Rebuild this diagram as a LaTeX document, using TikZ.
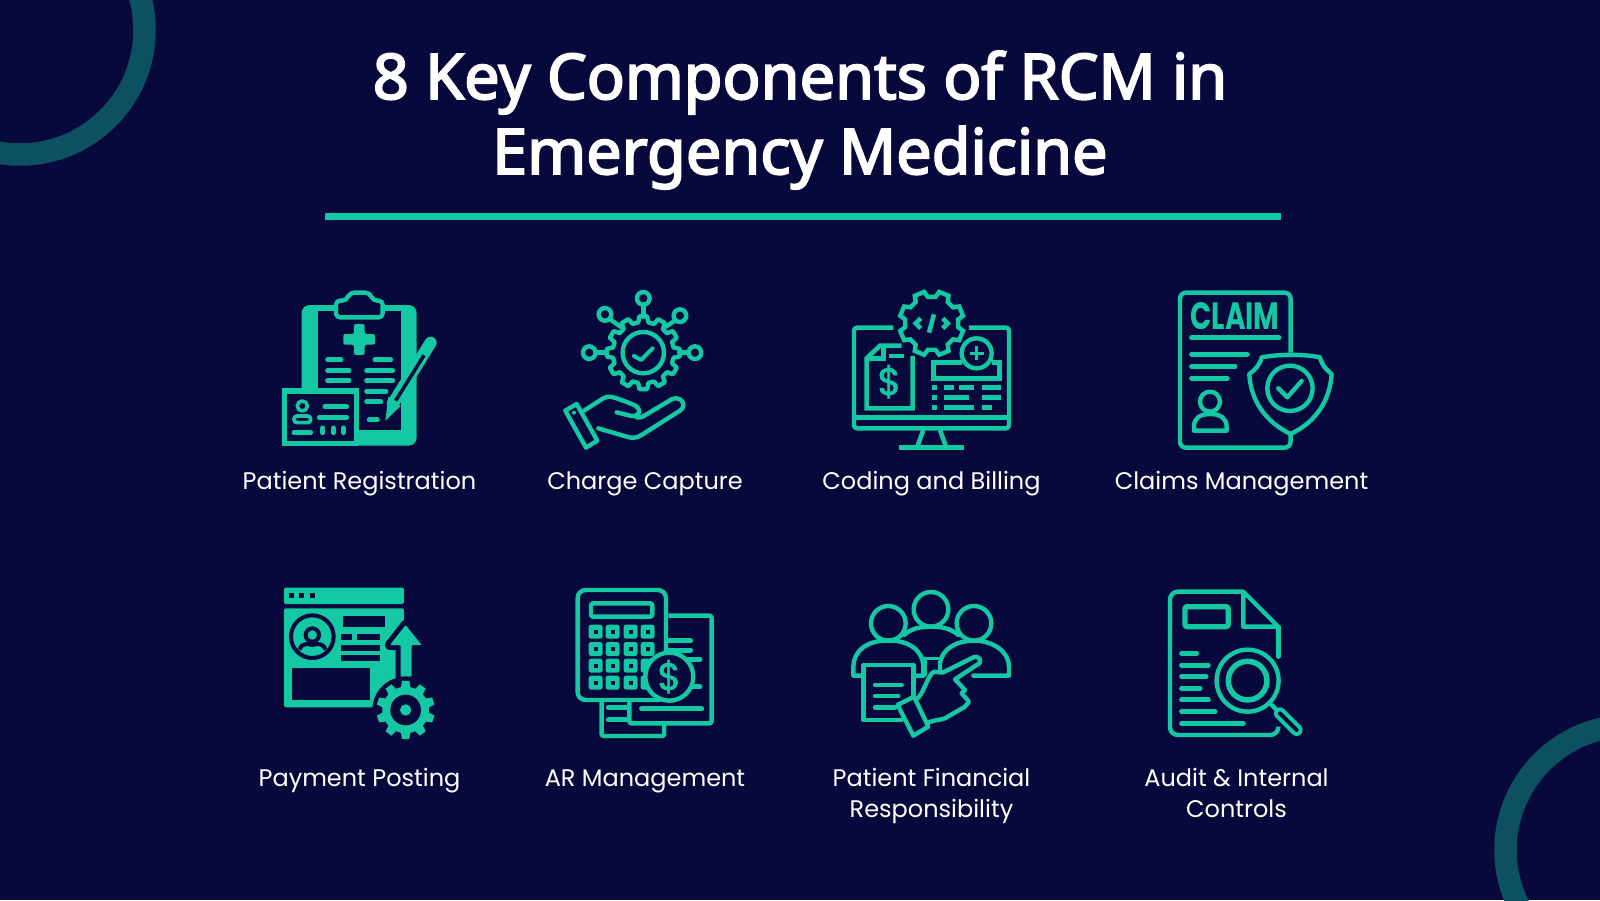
\documentclass[tikz,border=0pt]{standalone}
\usepackage{fontspec}
\usepackage{graphicx}
\newfontfamily\titlefont{Noto Sans}[FakeBold=3]
\newfontfamily\labelfont{Poppins}
\newfontfamily\iconfont{Poppins}[FakeBold=1.6]
\definecolor{navybg}{HTML}{07083C}
\definecolor{mint}{HTML}{14C8A3}
\definecolor{ringteal}{HTML}{0D5060}
\tikzset{
  titletext/.style={text=white, align=center, inner sep=0pt, font=\titlefont\fontsize{63}{75}\selectfont},
  labeltext/.style={text=white, align=center, inner sep=0pt, anchor=north, execute at begin node=\strut, font=\labelfont\fontsize{24}{31.5}\selectfont},
  iconunits/.style={x=.3333pt, y=-.3333pt},
  iconline/.style={draw=mint, line width=4.4pt, line join=round, line cap=round},
  thinbar/.style={draw=mint, line width=5pt, line cap=round},
  flatbar/.style={draw=mint, line width=4.6pt}
}
\newcommand{\gearpath}[4]{%
  ({#4-.2*360/#1}:#2) \foreach \a in {1,...,#1} {
    -- ({#4+(\a-1.2)*360/#1}:#2) -- ({#4+(\a-.8)*360/#1}:#2)
    -- ({#4+(\a-.68)*360/#1}:#3) -- ({#4+(\a-.32)*360/#1}:#3)
  } -- cycle}
\begin{document}
\begin{tikzpicture}[x=1pt,y=-1pt]
\useasboundingbox (0,0) rectangle (1600,900);
\clip (0,0) rectangle (1600,900);
\fill [navybg] (0,0) rectangle (1600,900);
\draw [ringteal, line width=22.5pt] (20,30) circle (124.5);
\draw [ringteal, line width=22.5pt] (1630,850) circle (124.5);
\node (title) [titletext] at (800,120) {8 Key Components of RCM in\\Emergency Medicine};
\fill [mint] (325,213) rectangle (1281,220);

\node (registration) [labeltext] at (359.5,467) {Patient Registration};
\node (charge) [labeltext] at (645,467) {Charge Capture};
\node (coding) [labeltext] at (931.5,467) {Coding and Billing};
\node (claims) [labeltext] at (1241.5,467) {Claims Management};
\node (posting) [labeltext] at (359.5,764) {Payment Posting};
\node (armanage) [labeltext] at (645,764) {AR Management};
\node (financial) [labeltext] at (931.5,768) {Patient Financial\\Responsibility};
\node (audit) [labeltext] at (1236.5,768) {Audit \& Internal\\Controls};

\begin{scope}[shift={(260,280)}, iconunits]
\fill [mint, rounded corners=8pt] (125,75) rectangle (470,497);
\fill [navybg] (173,92) rectangle (422,450);
\draw [iconline, fill=navybg, rounded corners=4pt] (228,112) -- (228,62) -- (258,62) -- (270,38) -- (328,38) -- (340,62) -- (368,62) -- (368,112) -- cycle;
\fill [mint, rounded corners=2pt] (282,132) -- (314,132) -- (314,162) -- (345,162) -- (345,194) -- (314,194) -- (314,225) -- (282,225) -- (282,194) -- (250,194) -- (250,162) -- (282,162) -- cycle;
\foreach \xa/\xb/\yy in {203/243/240, 203/267/272, 203/267/302, 345/392/240, 320/398/272, 320/398/302, 320/378/334, 320/362/365, 328/352/420}
  \draw [thinbar] (\xa,\yy) -- (\xb,\yy);
\fill [mint] (65,325) rectangle (298,497);
\fill [navybg] (80,342) rectangle (282,482);
\draw [iconline, line width=3.6pt] (127,378) circle (15);
\draw [iconline, line width=3.6pt, rounded corners=3pt] (102,428) -- (102,408) -- (152,408) -- (152,428) -- cycle;
\foreach \xa/\xb/\yy in {195/260/380, 178/260/412, 102/152/458}
  \draw [thinbar] (\xa,\yy) -- (\xb,\yy);
\foreach \xa in {188,220,250}
  \draw [thinbar] (\xa,444) -- (\xa,458);
\draw [mint, line width=12pt, line cap=round] (398,372) -- (512,188);
\fill [mint] (385,350) -- (422,378) -- (376,422) -- cycle;
\draw [navybg, line width=3.5pt] (407,362) -- (492,226);

\draw [iconline] (1150,218) circle (62);
\begin{scope}[shift={(1150,218)}]
\draw [iconline] \gearpath{12}{110}{92}{90};
\end{scope}
\draw [iconline, line width=4pt] (1122,228) -- (1143,240) -- (1178,205);
\draw [iconline] (1150,55) circle (19);
\draw [iconline] (1035,103) circle (19);
\draw [iconline] (1260,107) circle (19);
\draw [iconline] (988,218) circle (19);
\draw [iconline] (1305,218) circle (19);
\draw [iconline] (1150,74) -- (1150,110);
\draw [iconline] (1049,117) -- (1082,140);
\draw [iconline] (1246,121) -- (1218,140);
\draw [iconline] (1007,218) -- (1040,218);
\draw [iconline] (1286,218) -- (1258,218);
\draw [iconline] (916,392) -- (950,372) -- (1012,482) -- (978,503) -- cycle;
\fill [mint] (942,398) circle (6);
\draw [iconline] (972,392) -- (1030,355) .. controls (1045,345) and (1060,350) .. (1115,372) .. controls (1145,380) and (1145,410) .. (1115,408) -- (1070,397);
\draw [iconline] (1130,412) .. controls (1145,415) and (1150,408) .. (1165,400) -- (1235,358) .. controls (1260,345) and (1285,375) .. (1260,392) -- (1145,465) .. controls (1130,475) and (1115,475) .. (1100,470) -- (1015,445);
\end{scope}

\begin{scope}[shift={(830,280)}, iconunits]
\draw [iconline, rounded corners=3pt, line cap=butt] (190,143) -- (72,143) -- (72,445) -- (537,445) -- (537,143) -- (417,143);
\draw [flatbar] (72,412) -- (537,412);
\draw [flatbar] (280,450) -- (262,500);
\draw [flatbar] (330,450) -- (348,500);
\draw [flatbar] (207,503) -- (402,503);
\begin{scope}[shift={(305,130)}]
\draw [iconline, line join=miter] \gearpath{8}{97}{80}{22.5};
\end{scope}
\draw [flatbar] (272,115) -- (257,130) -- (272,145);
\draw [flatbar] (338,115) -- (353,130) -- (338,145);
\draw [flatbar] (312,103) -- (297,158);
\draw [flatbar] (215,197) -- (150,197) -- (110,235) -- (110,385) -- (248,385) -- (248,228);
\draw [flatbar] (160,197) -- (160,235) -- (110,235);
\draw [flatbar] (178,228) -- (222,228);
\node (dollarleft) [text=mint, inner sep=0pt, font=\iconfont\fontsize{38}{38}\selectfont] at (178,305) {\$};
\draw [flatbar] (395,248) -- (310,248) -- (310,295) -- (508,295) -- (508,248) -- (485,248);
\draw [iconline, fill=navybg] (440,220) circle (45);
\draw [mint, line width=3.6pt] (419,220) -- (461,220);
\draw [mint, line width=3.6pt] (440,199) -- (440,241);
\foreach \xa/\xb/\yy in {305/320/323, 342/372/323, 388/432/323, 455/513/323, 305/320/353, 342/417/353, 455/513/353, 305/320/383, 342/432/383, 455/485/383}
  \draw [flatbar] (\xa,\yy) -- (\xb,\yy);

\draw [iconline, rounded corners=6pt, line cap=butt] (1382,218) -- (1382,38) -- (1050,38) -- (1050,503) -- (1382,503) -- (1382,462);
\node (claimword) [text=mint, inner sep=0pt] at (1215,108) {\resizebox{89pt}{27pt}{\labelfont\bfseries CLAIM}};
\draw [thinbar] (1085,173) -- (1347,173);
\draw [thinbar] (1085,223) -- (1252,223);
\draw [thinbar] (1085,260) -- (1215,260);
\draw [thinbar] (1085,295) -- (1192,295);
\draw [iconline] (1140,365) circle (30);
\draw [iconline] (1092,452) -- (1092,440) .. controls (1092,415) and (1110,402) .. (1140,402) .. controls (1172,402) and (1190,415) .. (1190,440) -- (1190,452) -- cycle;
\draw [iconline, fill=navybg] (1295,232) .. controls (1350,222) and (1420,222) .. (1470,232) .. controls (1475,255) and (1490,270) .. (1505,282) .. controls (1500,360) and (1460,425) .. (1382,462) .. controls (1305,425) and (1262,360) .. (1258,282) .. controls (1275,270) and (1290,255) .. (1295,232) -- cycle;
\draw [iconline] (1380,325) circle (68);
\draw [iconline] (1345,325) -- (1372,352) -- (1415,303);
\end{scope}

\begin{scope}[shift={(260,575)}, iconunits]
\fill [mint, rounded corners=1.5pt] (72,38) rectangle (432,87);
\foreach \xx in {95,125,157}
  \fill [navybg] (\xx-8,54) rectangle (\xx+8,70);
\fill [mint, rounded corners=1.5pt] (72,100) rectangle (432,397);
\draw [navybg, line width=4pt, fill=mint] (157,185) circle (64);
\draw [navybg, line width=4pt] (157,180) circle (20);
\draw [navybg, line width=4pt] (118,224) .. controls (125,205) and (140,205) .. (157,210) .. controls (175,205) and (190,205) .. (197,224);
\foreach \xa/\ya/\xb/\yb in {250/123/375/155, 243/178/275/195, 290/178/360/195, 243/210/360/227, 243/241/360/258, 95/280/330/375}
  \fill [navybg] (\xa,\ya) rectangle (\xb,\yb);
\draw [navybg, line width=10pt, line join=round] (437,150) -- (485,210) -- (455,210) -- (455,310) -- (422,310) -- (422,210) -- (390,210) -- cycle;
\fill [mint, rounded corners=1pt] (437,150) -- (485,210) -- (455,210) -- (455,305) -- (422,305) -- (422,210) -- (390,210) -- cycle;
\fill [navybg] (437,405) circle (100);
\begin{scope}[shift={(437,405)}]
\fill [mint, line join=round] \gearpath{10}{88}{70}{90};
\fill [navybg] (0,0) circle (46);
\fill [mint] (0,0) circle (17);
\end{scope}

\draw [iconline, rounded corners=2pt, line cap=butt] (1225,122) -- (1355,122) -- (1355,445) -- (1108,445) -- (1108,380);
\draw [iconline, rounded corners=2pt, line cap=butt] (1025,380) -- (1025,483) -- (1213,483) -- (1213,450);
\draw [iconline, rounded corners=8pt] (953,45) rectangle (1218,375);
\draw [iconline, rounded corners=2pt] (993,85) rectangle (1177,125);
\foreach \xx in {1007,1058,1112,1163}
  \foreach \yy in {170,222,272,323} {
    \fill [mint, rounded corners=2.5pt] (\xx-21,\yy-21) rectangle (\xx+21,\yy+21);
    \fill [navybg] (\xx-6,\yy-6) rectangle (\xx+6,\yy+6);
  }
\foreach \xa/\xb/\yy in {1225/1292/197, 1225/1292/225, 1285/1320/252, 1295/1320/336, 1145/1325/402, 1045/1100/398, 1045/1100/435}
  \draw [thinbar] (\xa,\yy) -- (\xb,\yy);
\draw [iconline, fill=navybg] (1228,305) circle (72);
\node (dollarcoin) [text=mint, inner sep=0pt, font=\iconfont\fontsize{38}{38}\selectfont] at (1228,305) {\$};
\end{scope}

\begin{scope}[shift={(830,575)}, iconunits]
\draw [iconline] (175,145) circle (52);
\draw [iconline] (303,103) circle (52);
\draw [iconline] (432,145) circle (52);
\draw [iconline] (222,180) .. controls (245,160) and (270,155) .. (303,155) .. controls (335,155) and (362,160) .. (385,180);
\draw [iconline] (95,302) -- (70,302) -- (70,275) .. controls (70,230) and (110,195) .. (175,197) .. controls (240,195) and (280,230) .. (280,275) -- (280,302) -- (255,302);
\draw [iconline] (330,285) -- (330,265) .. controls (335,225) and (375,197) .. (432,197) .. controls (490,197) and (537,230) .. (537,275) -- (537,302) -- (430,302);
\draw [iconline, line width=3.6pt] (285,250) -- (325,250);
\draw [iconline, line width=3.6pt] (285,250) -- (285,300);
\draw [iconline] (100,302) -- (100,270) -- (250,270) -- (250,365);
\draw [iconline] (100,302) -- (100,435) -- (215,435);
\draw [iconline] (135,330) -- (215,330);
\draw [iconline] (135,363) -- (205,363);
\draw [iconline] (135,397) -- (195,397);
\draw [iconline, fill=navybg] (203,390) -- (252,365) -- (295,455) -- (250,482) -- cycle;
\draw [iconline] (262,370) .. controls (280,355) and (285,325) .. (305,295) .. controls (315,285) and (325,295) .. (340,292) -- (430,247) .. controls (450,240) and (460,262) .. (440,270) -- (375,313) -- (405,345) -- (395,355) -- (417,380) -- (405,395) -- (345,430) .. controls (330,435) and (315,435) .. (295,442);

\draw [iconline, rounded corners=8pt, line cap=butt] (1240,50) -- (1020,50) -- (1020,480) -- (1345,480) -- (1345,455);
\draw [iconline] (1240,50) -- (1345,155) -- (1240,155) -- cycle;
\draw [iconline] (1345,155) -- (1345,245);
\draw [iconline, line width=5.2pt, rounded corners=2pt] (1065,95) rectangle (1195,155);
\foreach \xb/\yy in {1100/235, 1135/270, 1128/305, 1110/340, 1135/375, 1155/410, 1240/445}
  \draw [thinbar] (1055,\yy) -- (\xb,\yy);
\draw [iconline] (1325,390) -- (1350,415);
\draw [iconline, fill=navybg] (1253,317) circle (93);
\draw [iconline, line width=5.5pt] (1253,317) circle (58);
\draw [mint, line width=12pt, line cap=round] (1350,415) -- (1400,465);
\draw [navybg, line width=4pt, line cap=round] (1350,415) -- (1400,465);
\end{scope}
\end{tikzpicture}
\end{document}
